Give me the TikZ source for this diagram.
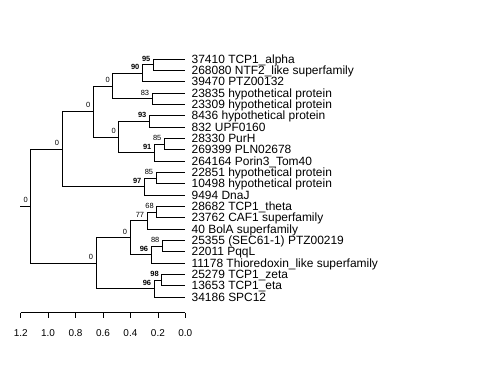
\documentclass[tikz,border=0pt]{standalone}
\usepackage{fontspec}
\setmainfont{Liberation Sans}
\tikzset{
  tiplab/.style={anchor=base west,inner sep=0pt,xshift=6bp,yshift=-4.3bp,
    font=\fontsize{12}{12}\selectfont},
  boot/.style={anchor=base east,inner sep=0pt,xshift=-2.5bp,yshift=3.5bp,
    font=\fontsize{7.5}{7.5}\selectfont},
  bootbf/.style={boot,font=\fontsize{7.5}{7.5}\selectfont\bfseries},
  axlab/.style={anchor=base,inner sep=0pt,font=\fontsize{10}{10}\selectfont},
}
\begin{document}
\begin{tikzpicture}[x=1bp,y=-1bp,line width=0.8bp]
      \useasboundingbox (0,0) rectangle (480,384);
      % tips
      \path
        (185.3,59.00) coordinate (t0) node[tiplab]{37410 TCP1\_alpha}
        (185.3,70.33) coordinate (t1) node[tiplab]{268080 NTF2\_like superfamily}
        (185.3,81.67) coordinate (t2) node[tiplab]{39470 PTZ00132}
        (185.3,93.00) coordinate (t3) node[tiplab]{23835 hypothetical protein}
        (185.3,104.33) coordinate (t4) node[tiplab]{23309 hypothetical protein}
        (185.3,115.67) coordinate (t5) node[tiplab]{8436 hypothetical protein}
        (185.3,127.00) coordinate (t6) node[tiplab]{832 UPF0160}
        (185.3,138.33) coordinate (t7) node[tiplab]{28330 PurH}
        (185.3,149.67) coordinate (t8) node[tiplab]{269399 PLN02678}
        (185.3,161.00) coordinate (t9) node[tiplab]{264164 Porin3\_Tom40}
        (185.3,172.33) coordinate (t10) node[tiplab]{22851 hypothetical protein}
        (185.3,183.67) coordinate (t11) node[tiplab]{10498 hypothetical protein}
        (185.3,195.00) coordinate (t12) node[tiplab]{9494 DnaJ}
        (185.3,206.33) coordinate (t13) node[tiplab]{28682 TCP1\_theta}
        (185.3,217.67) coordinate (t14) node[tiplab]{23762 CAF1 superfamily}
        (185.3,229.00) coordinate (t15) node[tiplab]{40 BolA superfamily}
        (185.3,240.33) coordinate (t16) node[tiplab]{25355 (SEC61-1) PTZ00219}
        (185.3,251.67) coordinate (t17) node[tiplab]{22011 PqqL}
        (185.3,263.00) coordinate (t18) node[tiplab]{11178 Thioredoxin\_like superfamily}
        (185.3,274.33) coordinate (t19) node[tiplab]{25279 TCP1\_zeta}
        (185.3,285.67) coordinate (t20) node[tiplab]{13653 TCP1\_eta}
        (185.3,297.00) coordinate (t21) node[tiplab]{34186 SPC12};
      % inner nodes
      \path
        (153.3,64.67) coordinate (n95)
        (142.3,73.17) coordinate (n90)
        (152.0,98.67) coordinate (n83)
        (112.7,85.92) coordinate (n0a)
        (149.3,121.33) coordinate (n93)
        (164.3,144.00) coordinate (n85a)
        (154.3,152.50) coordinate (n91)
        (118.7,136.92) coordinate (n0b)
        (93.3,111.42) coordinate (n0c)
        (156.0,178.00) coordinate (n85b)
        (144.3,186.50) coordinate (n97)
        (62.0,148.96) coordinate (n0d)
        (156.7,212.00) coordinate (n68)
        (147.0,220.50) coordinate (n77)
        (162.3,246.00) coordinate (n88)
        (151.0,254.50) coordinate (n96a)
        (130.0,237.50) coordinate (n0e)
        (161.7,280.00) coordinate (n98)
        (154.0,288.50) coordinate (n96b)
        (96.0,263.00) coordinate (n0f)
        (30.7,205.98) coordinate (root)
        (20.3,205.98) coordinate (stem);
      % branches
      \begin{scope}[-]
        \draw (stem) -- (root);
        \draw (root) |- (n0d);
        \draw (root) |- (n0f);
        \draw (n0d) |- (n0c);
        \draw (n0d) |- (n97);
        \draw (n0c) |- (n0a);
        \draw (n0c) |- (n0b);
        \draw (n0a) |- (n90);
        \draw (n0a) |- (n83);
        \draw (n90) |- (n95);
        \draw (n90) |- (t2);
        \draw (n95) |- (t0);
        \draw (n95) |- (t1);
        \draw (n83) |- (t3);
        \draw (n83) |- (t4);
        \draw (n0b) |- (n93);
        \draw (n0b) |- (n91);
        \draw (n93) |- (t5);
        \draw (n93) |- (t6);
        \draw (n91) |- (n85a);
        \draw (n91) |- (t9);
        \draw (n85a) |- (t7);
        \draw (n85a) |- (t8);
        \draw (n97) |- (n85b);
        \draw (n97) |- (t12);
        \draw (n85b) |- (t10);
        \draw (n85b) |- (t11);
        \draw (n0f) |- (n0e);
        \draw (n0f) |- (n96b);
        \draw (n0e) |- (n77);
        \draw (n0e) |- (n96a);
        \draw (n77) |- (n68);
        \draw (n77) |- (t15);
        \draw (n68) |- (t13);
        \draw (n68) |- (t14);
        \draw (n96a) |- (n88);
        \draw (n96a) |- (t18);
        \draw (n88) |- (t16);
        \draw (n88) |- (t17);
        \draw (n96b) |- (n98);
        \draw (n96b) |- (t21);
        \draw (n98) |- (t19);
        \draw (n98) |- (t20);
      \end{scope}
      % support values
      \node[boot] (broot) at (root) {0};
      \node[boot] (b0d) at (n0d) {0};
      \node[boot] (b0c) at (n0c) {0};
      \node[boot] (b0a) at (n0a) {0};
      \node[bootbf] (b90) at (n90) {90};
      \node[bootbf] (b95) at (n95) {95};
      \node[boot] (b83) at (n83) {83};
      \node[boot] (b0b) at (n0b) {0};
      \node[bootbf] (b93) at (n93) {93};
      \node[bootbf] (b91) at (n91) {91};
      \node[boot] (b85a) at (n85a) {85};
      \node[bootbf] (b97) at (n97) {97};
      \node[boot] (b85b) at (n85b) {85};
      \node[boot] (b0f) at (n0f) {0};
      \node[boot] (b0e) at (n0e) {0};
      \node[boot] (b77) at (n77) {77};
      \node[boot] (b68) at (n68) {68};
      \node[bootbf] (b96a) at (n96a) {96};
      \node[boot] (b88) at (n88) {88};
      \node[bootbf] (b96b) at (n96b) {96};
      \node[bootbf] (b98) at (n98) {98};
      % scale axis
      \draw (20.7,312.7) -- (185.3,312.7);
      \draw (20.7,312.7) -- (20.7,318.3);
      \draw (48.1,312.7) -- (48.1,318.3);
      \draw (75.5,312.7) -- (75.5,318.3);
      \draw (103.0,312.7) -- (103.0,318.3);
      \draw (130.4,312.7) -- (130.4,318.3);
      \draw (157.9,312.7) -- (157.9,318.3);
      \draw (185.3,312.7) -- (185.3,318.3);
      \node[axlab] (a12) at (20.7,336.7) {1.2};
      \node[axlab] (a10) at (48.1,336.7) {1.0};
      \node[axlab] (a08) at (75.5,336.7) {0.8};
      \node[axlab] (a06) at (103.0,336.7) {0.6};
      \node[axlab] (a04) at (130.4,336.7) {0.4};
      \node[axlab] (a02) at (157.9,336.7) {0.2};
      \node[axlab] (a00) at (185.3,336.7) {0.0};
\end{tikzpicture}
\end{document}
